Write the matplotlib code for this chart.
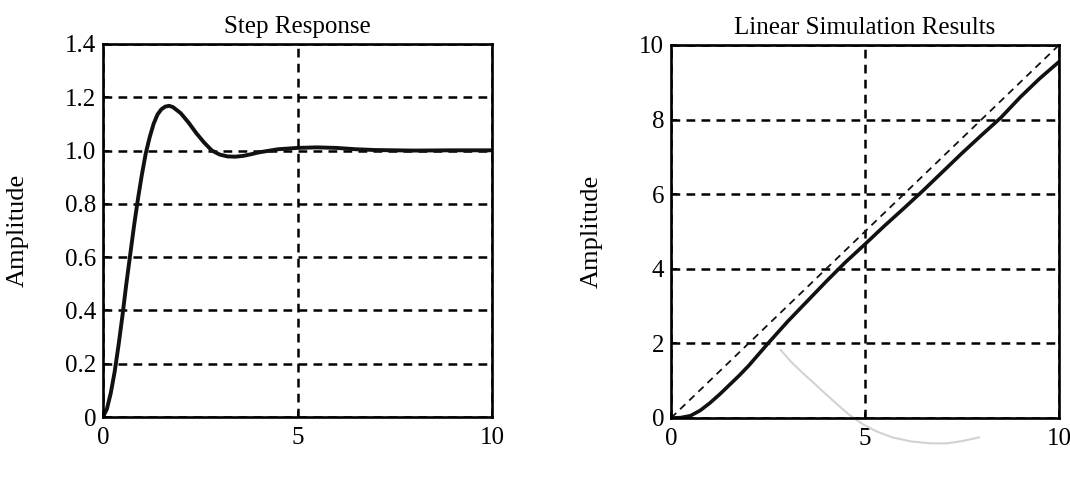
import matplotlib
matplotlib.use("Agg")
import matplotlib.pyplot as plt

# ---- data ----
step_t = [0, 0.1, 0.2, 0.3, 0.4, 0.5, 0.6, 0.7, 0.8, 0.9, 1.0, 1.1, 1.2, 1.3, 1.4,
          1.5, 1.6, 1.7, 1.8, 2.0, 2.2, 2.4, 2.6, 2.8, 3.0, 3.2, 3.4, 3.6, 3.8,
          4.0, 4.5, 5.0, 5.5, 6.0, 6.5, 7.0, 8.0, 9.0, 10.0]
step_y = [0, 0.03, 0.09, 0.17, 0.27, 0.38, 0.50, 0.61, 0.72, 0.82, 0.91, 0.99, 1.05,
          1.10, 1.135, 1.155, 1.165, 1.168, 1.163, 1.14, 1.105, 1.065, 1.03, 1.00,
          0.985, 0.978, 0.977, 0.98, 0.986, 0.993, 1.005, 1.01, 1.012, 1.01, 1.005,
          1.002, 1.0, 1.001, 1.001]

ramp_t = [0, 0.25, 0.5, 0.75, 1.0, 1.25, 1.5, 1.75, 2.0, 2.25, 2.5, 3.0, 3.5, 4.0,
          4.5, 5.0, 5.5, 6.0, 6.5, 7.0, 7.5, 8.0, 8.5, 9.0, 9.5, 10.0]
ramp_y = [0, 0.01, 0.06, 0.2, 0.4, 0.63, 0.88, 1.13, 1.4, 1.7, 2.0, 2.58, 3.12, 3.66,
          4.18, 4.66, 5.15, 5.62, 6.1, 6.6, 7.1, 7.58, 8.05, 8.6, 9.1, 9.55]

input_t = [0, 10]
input_y = [0, 10]

# faint pencil stroke visible on the scan
mark_t = [2.83, 3.1, 3.4, 3.7, 4.0, 4.3, 4.6, 4.95, 5.3, 5.7, 6.2, 6.7, 7.1, 7.5, 7.94]
mark_y = [1.82, 1.5, 1.2, 0.92, 0.63, 0.35, 0.08, -0.17, -0.36, -0.52, -0.63, -0.68, -0.68, -0.62, -0.52]

step_yticks = [0, 0.2, 0.4, 0.6, 0.8, 1.0, 1.2, 1.4]
step_yticklabels = ["0", "0.2", "0.4", "0.6", "0.8", "1.0", "1.2", "1.4"]
ramp_yticks = [0, 2, 4, 6, 8, 10]
xticks = [0, 5, 10]

plt.rcParams['font.family'] = ['Liberation Serif', 'DejaVu Serif']

fig = plt.figure(figsize=(10.7, 4.8), dpi=100)
ax1 = fig.add_axes([103/1070, 63/480, 389/1070, 373/480])
ax2 = fig.add_axes([671/1070, 62/480, 388/1070, 373/480])


def style(ax, yticks, ylabels, title, labelx):
    ax.set_xlim(0, 10)
    ax.set_xticks(xticks)
    ax.set_xticklabels([str(v) for v in xticks])
    ax.set_yticks(yticks)
    ax.set_yticklabels(ylabels)
    ax.tick_params(direction='in', length=4, width=1.2, labelsize=18, colors='black')
    ax.tick_params(axis='x', pad=7)
    ax.tick_params(axis='y', pad=5)
    for s in ax.spines.values():
        s.set_linewidth(1.9)
        s.set_color('black')
    ax.grid(True, color='black', linestyle=(0, (3.5, 2.5)), linewidth=1.8)
    ax.set_axisbelow(True)
    ax.set_title(title, fontsize=18, pad=8)
    ax.set_ylabel("Amplitude", fontsize=19)
    ax.yaxis.set_label_coords(labelx, 0.5)


ax1.plot(step_t, step_y, color='#111111', linewidth=2.8, solid_joinstyle='round')
ax1.set_ylim(0, 1.4)
style(ax1, step_yticks, step_yticklabels, "Step Response", -0.19)

ax2.plot(input_t, input_y, color='#111111', linewidth=1.3, linestyle=(0, (4, 3)))
ax2.plot(ramp_t, ramp_y, color='#111111', linewidth=2.6, solid_joinstyle='round')
ax2.plot(mark_t, mark_y, color='#d2d2d2', linewidth=1.5, clip_on=False)
ax2.set_ylim(0, 10)
style(ax2, ramp_yticks, [str(v) for v in ramp_yticks], "Linear Simulation Results", -0.175)

fig.savefig("out.png", dpi=100)
